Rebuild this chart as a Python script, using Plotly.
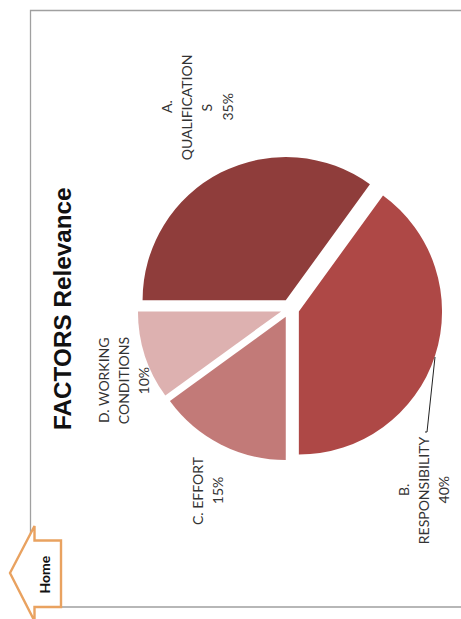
import plotly.graph_objects as go

WIDTH, HEIGHT = 461, 619

# Pie data
factor_names = ["A. QUALIFICATIONS", "B. RESPONSIBILITY", "C. EFFORT", "D. WORKING CONDITIONS"]
wrapped_names = [["A.", "QUALIFICATION", "S"], ["B.", "RESPONSIBILITY"], ["C. EFFORT"], ["D. WORKING", "CONDITIONS"]]
relevance = [35, 40, 15, 10]
slice_colors = ["#8F3D3B", "#AE4846", "#C27A78", "#DDB1B0"]
# Rotated label blocks: x of the first line and y centre, in page pixels
label_anchors = [(167, 107), (403, 490), (197, 491), (103, 381)]
LINE_STEP = 20.2

TEXT_FONT = "Lato, Carlito, sans-serif"


def px(x):
    return x / WIDTH


def py(y):
    return 1 - y / HEIGHT


PULL = 0.065
fig = go.Figure(
    go.Pie(
        labels=factor_names,
        values=relevance,
        sort=False,
        direction="clockwise",
        rotation=270,
        pull=PULL,
        textinfo="none",
        hoverinfo="label+percent",
        showlegend=False,
        marker=dict(colors=slice_colors, line=dict(width=0)),
        domain=dict(x=[px(137.5), px(442.5)], y=[py(461), py(156)]),
    )
)

shapes = [
    # Frame, running off the right edge of the page
    dict(type="path", path=f"M {px(461)},{py(10.5)} L {px(30.5)},{py(10.5)} L {px(30.5)},{py(607)} L {px(461)},{py(607)}",
         line=dict(color="#A0A0A0", width=1.3)),
    # Leader line from the responsibility slice to its label
    dict(type="path", path=f"M {px(435)},{py(357)} L {px(427)},{py(432)} L {px(425)},{py(432)}",
         line=dict(color="#222222", width=1)),
    # "Home" arrow button
    dict(type="path",
         path=(f"M {px(10)},{py(573)} L {px(34.5)},{py(526)} L {px(34.5)},{py(540.5)} L {px(61)},{py(540.5)} "
               f"L {px(61)},{py(607)} L {px(34.5)},{py(607)} L {px(34.5)},{py(621)} Z"),
         fillcolor="white", line=dict(color="#E9A260", width=2.4)),
]

annotations = [
    dict(text="<b>FACTORS Relevance</b>", x=px(62), y=py(309), textangle=-90,
         font=dict(family="Liberation Sans, Arial, sans-serif", size=24.3, color="#111111")),
    dict(text="<b>Home</b>", x=px(44), y=py(574.5), textangle=-90,
         font=dict(family=TEXT_FONT, size=14, color="#111111")),
]
# Each wrapped line is placed on its own to keep the wider line pitch
for lines, value, (x0, yc) in zip(wrapped_names, relevance, label_anchors):
    for i, line in enumerate(lines + [f"{value}%"]):
        annotations.append(
            dict(text=line, x=px(x0 + i * LINE_STEP), y=py(yc), textangle=-90,
                 font=dict(family=TEXT_FONT, size=14, color="#333333"))
        )
for a in annotations:
    a.update(xref="paper", yref="paper", xanchor="center", yanchor="middle", showarrow=False, align="center")

fig.update_layout(
    width=WIDTH,
    height=HEIGHT,
    margin=dict(l=0, r=0, t=0, b=0),
    paper_bgcolor="white",
    shapes=shapes,
    annotations=annotations,
)

fig.write_html("out.html", config=dict(displayModeBar=False))
